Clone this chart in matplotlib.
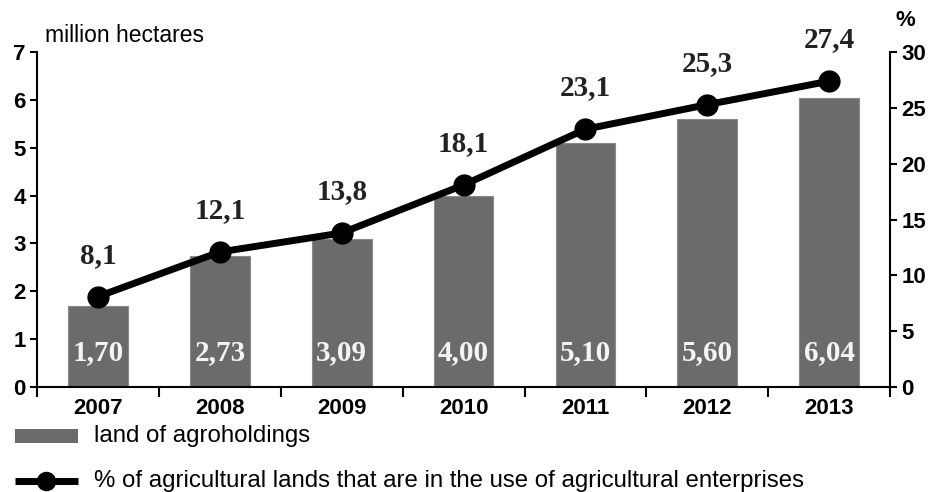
import matplotlib.pyplot as plt
from matplotlib.patches import Rectangle
from matplotlib.lines import Line2D

years = ["2007", "2008", "2009", "2010", "2011", "2012", "2013"]
land_mln_ha = [1.70, 2.73, 3.09, 4.00, 5.10, 5.60, 6.04]
share_pct = [8.1, 12.1, 13.8, 18.1, 23.1, 25.3, 27.4]

bar_labels = ["1,70", "2,73", "3,09", "4,00", "5,10", "5,60", "6,04"]
line_labels = ["8,1", "12,1", "13,8", "18,1", "23,1", "25,3", "27,4"]

plt.rcParams['font.family'] = ['Liberation Sans', 'DejaVu Sans']

fig = plt.figure(figsize=(9.37, 4.92), dpi=100)
ax = fig.add_axes([0.0395, 0.2134, 0.9105, 0.6806])
x = range(len(years))

# bars on the left axis
ax.bar(x, land_mln_ha, width=0.49, color="#6b6b6b", edgecolor="#8a8a8a", linewidth=0.8, zorder=2)
for i, lab in enumerate(bar_labels):
    ax.text(i, 0.73, lab, ha="center", va="center", color="#f4f4f4",
            family="Liberation Serif", fontsize=21, fontweight="bold", zorder=3)

ax.set_xlim(-0.5, 6.5)
ax.set_ylim(0, 7)
ax.set_yticks(range(0, 8))
ax.set_xticks(list(x))
ax.set_xticklabels(years, fontsize=16, fontweight="bold")
ax.tick_params(axis="x", length=0, pad=8)
ax.set_xticks([i - 0.5 for i in range(8)], minor=True)
ax.tick_params(axis="x", which="minor", direction="out", length=7, width=1.5)
ax.tick_params(axis="y", direction="out", length=5, width=1.5, labelsize=16, pad=3)
for t in ax.get_yticklabels():
    t.set_fontweight("bold")
ax.spines["top"].set_visible(False)
ax.spines["right"].set_visible(False)
for s in ("left", "bottom"):
    ax.spines[s].set_linewidth(1.5)

# line on the right axis
ax2 = ax.twinx()
ax2.plot(x, share_pct, color="black", linewidth=5, marker="o", markersize=15, zorder=4)
for i, lab in enumerate(line_labels):
    ax2.text(i, share_pct[i] + 3.7, lab, ha="center", va="center", color="#222222",
             family="Liberation Serif", fontsize=21, fontweight="bold")
ax2.set_ylim(0, 30)
ax2.set_yticks(range(0, 31, 5))
ax2.tick_params(axis="y", direction="out", length=5, width=1.5, labelsize=16, pad=3)
for t in ax2.get_yticklabels():
    t.set_fontweight("bold")
for s in ("top", "left", "bottom"):
    ax2.spines[s].set_visible(False)
ax2.spines["right"].set_linewidth(1.5)

fig.text(0.048, 0.928, "million hectares", fontsize=16.5, va="center")
fig.text(0.966, 0.958, "%", fontsize=16, fontweight="bold", va="center", ha="center")

# legend drawn below the axes
fig.patches.append(Rectangle((0.016, 0.1), 0.067, 0.028, transform=fig.transFigure,
                             facecolor="#6b6b6b", edgecolor="none"))
fig.text(0.1, 0.113, "land of agroholdings", fontsize=17.3, va="center")
fig.lines.append(Line2D([0.016, 0.0495, 0.083], [0.022, 0.022, 0.022],
                        transform=fig.transFigure, color="black", linewidth=5,
                        marker="o", markersize=13, markevery=[1], solid_capstyle="butt"))
fig.text(0.1, 0.022, "% of agricultural lands that are in the use of agricultural enterprises",
         fontsize=17.3, va="center")

fig.savefig("out.png", dpi=100)
